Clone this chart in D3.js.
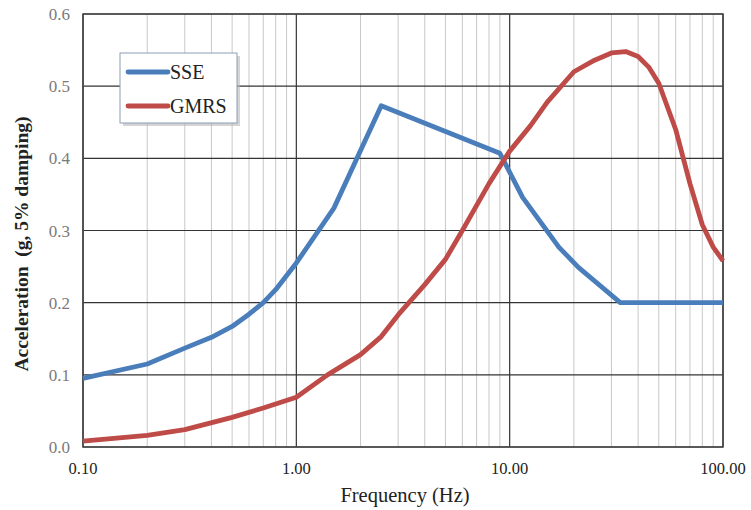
<!DOCTYPE html>
<html>
<head>
<meta charset="utf-8">
<script src="https://cdn.jsdelivr.net/npm/d3@7"></script>
<style>
  body { margin: 0; background: #fff; }
  text { font-family: "Liberation Serif", "Times New Roman", serif; }
</style>
</head>
<body>
<svg width="751" height="510"></svg>
<script>
// SSE spectrum
var sseFreq = [0.1, 0.2, 0.3, 0.4, 0.5, 0.6, 0.7, 0.8, 1.0, 1.5, 2.5, 9.0, 11.5, 17, 21, 33, 100];
var sseAcc  = [0.095, 0.115, 0.137, 0.152, 0.167, 0.184, 0.2, 0.218, 0.255, 0.331, 0.473, 0.407, 0.346, 0.277, 0.249, 0.2, 0.2];
// GMRS spectrum
var gmrsFreq = [0.1, 0.2, 0.3, 0.5, 0.7, 1.0, 1.4, 2.0, 2.5, 3.0, 4.0, 5.0, 6.0, 8.0, 10, 12.5, 15, 20, 25, 30, 35, 40, 45, 50, 60, 70, 80, 90, 100];
var gmrsAcc  = [0.008, 0.016, 0.024, 0.041, 0.054, 0.069, 0.1, 0.128, 0.153, 0.183, 0.225, 0.26, 0.3, 0.365, 0.41, 0.445, 0.478, 0.52, 0.536, 0.546, 0.548, 0.541, 0.526, 0.504, 0.44, 0.365, 0.308, 0.277, 0.258];

var xTicks = [0.1, 1, 10, 100];
var yTicks = [0, 0.1, 0.2, 0.3, 0.4, 0.5, 0.6];
var seriesNames = ["SSE", "GMRS"];
var colors = ["#4A7EBB", "#BE4B48"];

var margin = {top: 14, right: 28, bottom: 63, left: 83},
  width = 751 - margin.left - margin.right,
  height = 510 - margin.top - margin.bottom;

var svg = d3.select("svg")
  .append("g")
  .attr("transform", "translate(" + margin.left + "," + margin.top + ")");

var x = d3.scaleLog().domain([0.1, 100]).range([0, width]);
var y = d3.scaleLinear().domain([0, 0.6]).range([height, 0]);

// minor vertical gridlines
var minor = [];
[0.1, 1, 10].forEach(function(d) {
  for (var k = 2; k <= 9; k++) minor.push(d * k);
});
svg.selectAll(".minor")
  .data(minor)
  .enter().append("line")
  .attr("x1", function(d) { return x(d); })
  .attr("x2", function(d) { return x(d); })
  .attr("y1", 0).attr("y2", height)
  .style("stroke", "#c8c8c8").style("stroke-width", 1);

// major gridlines
svg.selectAll(".vmajor")
  .data(xTicks)
  .enter().append("line")
  .attr("x1", function(d) { return x(d); })
  .attr("x2", function(d) { return x(d); })
  .attr("y1", 0).attr("y2", height)
  .style("stroke", "#333").style("stroke-width", 1.2);

svg.selectAll(".hmajor")
  .data(yTicks)
  .enter().append("line")
  .attr("x1", 0).attr("x2", width)
  .attr("y1", function(d) { return y(d); })
  .attr("y2", function(d) { return y(d); })
  .style("stroke", "#333").style("stroke-width", 1.2);

// plot border
svg.append("rect")
  .attr("width", width).attr("height", height)
  .style("fill", "none").style("stroke", "#444").style("stroke-width", 1.5);

// tick labels
svg.selectAll(".ylab")
  .data(yTicks)
  .enter().append("text")
  .attr("x", -13)
  .attr("y", function(d) { return y(d) + 6; })
  .style("text-anchor", "end")
  .style("font-size", "17px")
  .style("fill", "#7a7a7a")
  .text(function(d) { return d3.format(".1f")(d); });

svg.selectAll(".xlab")
  .data(xTicks)
  .enter().append("text")
  .attr("x", function(d) { return x(d); })
  .attr("y", height + 27)
  .style("text-anchor", "middle")
  .style("font-size", "16.5px")
  .style("fill", "#222")
  .text(function(d) { return d3.format(".2f")(d); });

// lines
var line = d3.line()
  .x(function(d) { return x(d[0]); })
  .y(function(d) { return y(d[1]); });

var series = [d3.zip(sseFreq, sseAcc), d3.zip(gmrsFreq, gmrsAcc)];
svg.selectAll(".series")
  .data(series)
  .enter().append("path")
  .attr("d", line)
  .style("fill", "none")
  .style("stroke", function(d, i) { return colors[i]; })
  .style("stroke-width", 4.8)
  .style("stroke-linejoin", "round");

// axis titles
svg.append("text")
  .attr("x", width / 2 + 2)
  .attr("y", height + 55)
  .style("text-anchor", "middle")
  .style("font-size", "20.5px")
  .style("fill", "#222")
  .text("Frequency (Hz)");

svg.append("text")
  .attr("transform", "translate(" + (-55) + "," + (230) + ") rotate(-90)")
  .style("text-anchor", "middle")
  .style("font-size", "19.5px")
  .style("font-weight", "bold")
  .style("fill", "#222")
  .style("white-space", "pre")
  .text("Acceleration  (g, 5% damping)");

// legend
var lg = svg.append("g").attr("transform", "translate(" + (120 - margin.left) + "," + (53 - margin.top) + ")");
lg.append("rect")
  .attr("x", 3).attr("y", 3).attr("width", 117).attr("height", 70)
  .style("fill", "#b8b8b8").style("opacity", 0.6);
lg.append("rect")
  .attr("width", 117).attr("height", 70)
  .style("fill", "#fff").style("stroke", "#8c9db8").style("stroke-width", 1);

var items = lg.selectAll(".legend")
  .data(seriesNames)
  .enter().append("g")
  .attr("transform", function(d, i) { return "translate(0," + (19 + i * 34) + ")"; });

items.append("line")
  .attr("x1", 8).attr("x2", 48)
  .style("stroke", function(d, i) { return colors[i]; })
  .style("stroke-width", 4.8)
  .style("stroke-linecap", "round");

items.append("text")
  .attr("x", 50).attr("y", 7)
  .style("font-size", "20px")
  .style("fill", "#222")
  .text(function(d) { return d; });
</script>
</body>
</html>
